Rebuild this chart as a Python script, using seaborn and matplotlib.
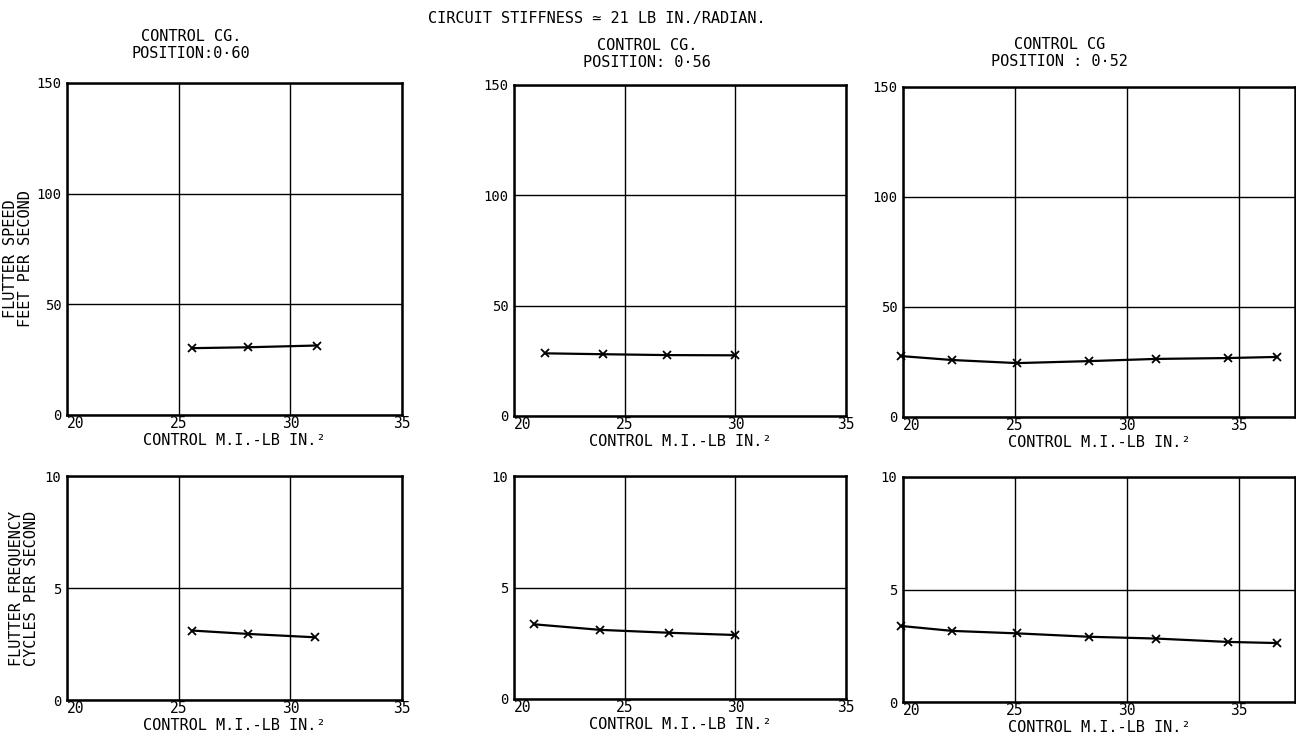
import matplotlib
matplotlib.use("Agg")
import matplotlib.pyplot as plt
import seaborn as sns
import pandas as pd

# ---- data ----
x_060_speed = [25.6, 28.1, 31.2]
speed_060 = [30.2, 30.6, 31.4]
x_060_freq = [25.6, 28.1, 31.1]
freq_060 = [3.1, 2.95, 2.8]

x_056_speed = [21.4, 24.0, 26.9, 30.0]
speed_056 = [28.4, 28.0, 27.6, 27.5]
x_056_freq = [20.9, 23.9, 27.0, 30.0]
freq_056 = [3.35, 3.1, 2.97, 2.87]

x_052 = [19.9, 22.2, 25.1, 28.3, 31.3, 34.5, 36.7]
speed_052 = [27.7, 25.9, 24.5, 25.4, 26.4, 26.8, 27.3]
freq_052 = [3.38, 3.16, 3.05, 2.9, 2.82, 2.67, 2.62]

titles = ["CONTROL CG.\nPOSITION:0·60", "CONTROL CG.\nPOSITION: 0·56", "CONTROL CG\nPOSITION : 0·52"]
suptitle = "CIRCUIT STIFFNESS \u2243 21 LB IN./RADIAN."
xlabel = "CONTROL M.I.-LB IN.\u00b2"
ylabel_speed = "FLUTTER SPEED\nFEET PER SECOND"
ylabel_freq = "FLUTTER FREQUENCY\nCYCLES PER SECOND"
xticks = [20, 25, 30, 35]
speed_ticks = [0, 50, 100, 150]
freq_ticks = [0, 5, 10]

sns.set_style("white")
plt.rcParams['font.family'] = ['DejaVu Sans Mono', 'DejaVu Sans']
plt.rcParams['text.color'] = 'black'
plt.rcParams['axes.labelcolor'] = 'black'
plt.rcParams['xtick.color'] = 'black'
plt.rcParams['ytick.color'] = 'black'

W, H = 1296, 738
fig = plt.figure(figsize=(W / 100, H / 100), dpi=100)

def box(l, r, t, b):
    return [l / W, 1 - b / H, (r - l) / W, (b - t) / H]

panels_top = [box(67, 402, 83, 415), box(514, 846, 85, 416), box(903, 1295, 87, 417)]
panels_bot = [box(67, 402, 476, 700), box(514, 846, 476, 699), box(903, 1295, 477, 702)]
xlims = [(20, 35), (20, 35), (20, 37.5)]
title_x = [0.37, 0.40, 0.40]
title_pad = [18, 13, 15]

speed_data = [(x_060_speed, speed_060), (x_056_speed, speed_056), (x_052, speed_052)]
freq_data = [(x_060_freq, freq_060), (x_056_freq, freq_056), (x_052, freq_052)]

def style(ax, xlim, ylim, yticks):
    ax.set_xlim(*xlim)
    ax.set_ylim(*ylim)
    ax.set_xticks(xticks)
    ax.set_yticks(yticks)
    ax.grid(True, color="black", linewidth=1.0)
    ax.set_axisbelow(True)
    for s in ax.spines.values():
        s.set_color("black")
        s.set_linewidth(1.8)
    ax.tick_params(axis="y", length=0, pad=4, labelsize=10, colors="black")
    ax.tick_params(axis="x", length=0, pad=1, labelsize=10.5, colors="black")
    labels = ax.get_xticklabels()
    labels[0].set_horizontalalignment("left")
    ax.set_xlabel(xlabel, fontsize=11, labelpad=1, color="black")
    ax.set_ylabel("")

line_kw = dict(color="black", linewidth=1.6, marker="x", markersize=6,
               markeredgewidth=1.3, markeredgecolor="black", sort=False, clip_on=False)

for i in range(3):
    ax = fig.add_axes(panels_top[i])
    xs, ys = speed_data[i]
    df = pd.DataFrame({"x": xs, "y": ys})
    sns.lineplot(data=df, x="x", y="y", ax=ax, **line_kw)
    style(ax, xlims[i], (0, 150), speed_ticks)
    ax.set_title(titles[i], x=title_x[i], fontsize=11, pad=title_pad[i],
                 linespacing=1.2, color="black")
    if i == 0:
        ax.set_ylabel(ylabel_speed, fontsize=11, linespacing=1.05)
        ax.yaxis.set_label_coords(-0.1, 0.47)

    ax = fig.add_axes(panels_bot[i])
    xs, ys = freq_data[i]
    df = pd.DataFrame({"x": xs, "y": ys})
    sns.lineplot(data=df, x="x", y="y", ax=ax, **line_kw)
    style(ax, xlims[i], (0, 10), freq_ticks)
    if i == 0:
        ax.set_ylabel(ylabel_freq, fontsize=11, linespacing=1.05)
        ax.yaxis.set_label_coords(-0.085, 0.5)

fig.text(597 / W, 1 - 19 / H, suptitle, ha="center", va="center", fontsize=11, color="black")

fig.savefig("out.png", dpi=100, facecolor="white")
